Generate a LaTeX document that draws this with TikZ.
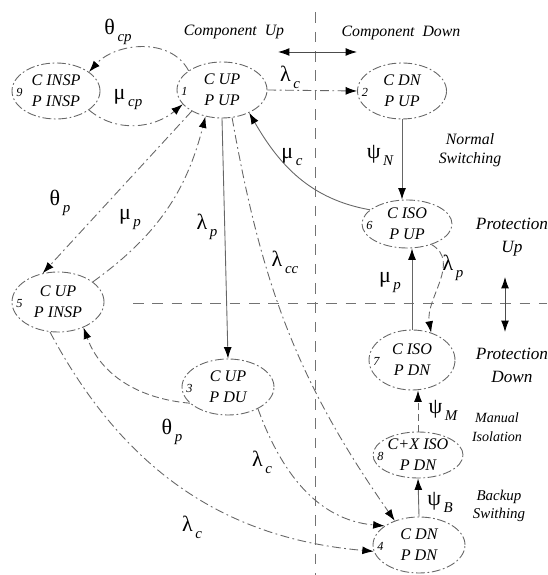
\documentclass[tikz,border=0pt]{standalone}
\usepackage{fontspec}
\setmainfont{Liberation Serif}
\usepackage{tikz}
\usetikzlibrary{shapes.geometric, arrows.meta}

\newcommand{\ratelab}[2]{#1\kern1.5pt\raisebox{-0.32em}{\fontsize{8.5}{9}\selectfont\itshape #2}}

\tikzset{
	state/.style={shape=ellipse, draw=black!60, line width=0.5pt, dash pattern=on 5pt off 1.5pt on 1pt off 1.5pt, inner sep=0pt, align=center, font=\fontsize{9.2}{12}\selectfont\itshape},
	statenum/.style={label={[font=\fontsize{7}{7}\selectfont\itshape, inner sep=0pt, anchor=west, xshift=2.5pt, yshift=-1pt]west:#1}},
	rate/.style={font=\fontsize{12.5}{14}\selectfont, inner sep=1pt},
	note/.style={font=\fontsize{9}{11}\selectfont\itshape, align=center, inner sep=1pt},
	trans/.style={draw=black!60, line width=0.5pt, -{Latex[length=6.5pt, width=4.5pt, color=black]}},
	dd/.style={dash pattern=on 5pt off 2pt on 1pt off 2pt},
	ds/.style={dash pattern=on 4pt off 2pt},
	twoway/.style={draw=black!70, line width=0.5pt, {Latex[length=6.5pt, width=4.5pt, color=black]}-{Latex[length=6.5pt, width=4.5pt, color=black]}},
	divider/.style={draw=black!55, line width=0.5pt, dash pattern=on 6pt off 5pt}
}

\begin{document}
\begin{tikzpicture}
	% States, rates and borders:
	\useasboundingbox (0, 0) rectangle (10.94, 11.5);
	\coordinate (vtop) at (6.30, 11.25);
	\coordinate (vbot) at (6.30, 0);
	\coordinate (hleft) at (2.66, 5.44);
	\coordinate (hright) at (10.94, 5.44);
	\draw[divider] (vtop) -- (vbot);
	\draw[divider] (hleft) -- (hright);
	\coordinate (cl) at (5.56, 10.46);
	\coordinate (cr) at (7.14, 10.46);
	\draw[twoway] (cl) -- (cr);
	\coordinate (pu) at (10.10, 5.96);
	\coordinate (pd) at (10.10, 4.86);
	\draw[twoway] (pu) -- (pd);
	\node[note] (compup) at (4.68, 10.86){Component\ \ Up};
	\node[note] (compdn) at (8.02, 10.84){Component\ \ Down};
	\node[note] (normsw) at (9.40, 8.50){Normal\\Switching};
	\node[note, font=\fontsize{9.8}{13}\selectfont\itshape] (protup) at (10.24, 6.76){Protection\\Up};
	\node[note, font=\fontsize{9.8}{13}\selectfont\itshape] (protdn) at (10.24, 4.20){Protection\\Down};
	\node[note, font=\fontsize{8}{10.5}\selectfont\itshape] (maniso) at (9.94, 2.96){Manual\\Isolation};
	\node[note, font=\fontsize{8.5}{10.5}\selectfont\itshape] (backsw) at (9.98, 1.38){Backup\\Swithing};
	\node[state, statenum=9, minimum width=1.76cm, minimum height=1.12cm] (n9) at (1.12, 9.68){C INSP\\P INSP};
	\node[state, statenum=1, minimum width=1.80cm, minimum height=1.12cm] (n1) at (4.44, 9.70){C UP\\P UP};
	\node[state, statenum=2, minimum width=1.78cm, minimum height=1.12cm] (n2) at (8.04, 9.68){C DN\\P UP};
	\node[state, statenum=6, minimum width=1.80cm, minimum height=0.96cm] (n6) at (8.14, 7.02){C ISO\\P UP};
	\node[state, statenum=5, minimum width=1.84cm, minimum height=1.20cm] (n5) at (1.16, 5.46){C UP\\P INSP};
	\node[state, statenum=3, minimum width=1.84cm, minimum height=1.12cm] (n3) at (4.56, 3.76){C UP\\P DU};
	\node[state, statenum=7, minimum width=1.72cm, minimum height=1.20cm] (n7) at (8.24, 4.30){C ISO\\P DN};
	\node[state, statenum=8, minimum width=1.80cm, minimum height=0.92cm] (n8) at (8.36, 2.40){C+X ISO\\P DN};
	\node[state, statenum=4, minimum width=1.84cm, minimum height=1.12cm] (n4) at (8.38, 0.60){C DN\\P DN};
	\draw[trans, dd] (n1.east) -- (n2.west);
	\draw[trans, dd] (n1.150) to[out=118, in=48] (n9.30);
	\draw[trans, dd] (n9.-30) to[out=-40, in=-140] (n1.200);
	\draw[trans, dd] (n1.215) -- (n5.118);
	\draw[trans, dd] (n5.30) to[bend right=20] (n1.238);
	\draw[trans] (n1.south) -- (n3.north);
	\draw[trans, dd] (n1.-70) to[out=-80, in=125] (n4.135);
	\draw[trans] (n6.159) to[out=170, in=-60] (n1.-40);
	\draw[trans] (n2.south) -- (n2.south |- n6.north);
	\draw[trans] (n7.north) -- (n7.north |- n6.south);
	\draw[trans, ds] (n6.-40) to[out=-30, in=100] (n7.55);
	\draw[trans, ds] (n8.north) -- (n8.north |- n7.south);
	\draw[trans] (n4.north) -- (n8.south);
	\draw[trans, ds] (n3.203) to[out=175, in=-70] (n5.-45);
	\draw[trans, dd] (n3.-36) to[out=-70, in=175] (n4.151);
	\draw[trans, dd] (n5.-105) to[out=-62, in=175] (n4.188);
	\node[rate] (lthetacp) at (2.36, 10.86){\ratelab{θ}{cp}};
	\node[rate] (lmucp) at (2.56, 9.50){\ratelab{μ}{cp}};
	\node[rate] (llamc1) at (5.80, 9.96){\ratelab{λ}{c}};
	\node[rate] (lthetap1) at (1.20, 7.44){\ratelab{θ}{p}};
	\node[rate] (lmup1) at (2.60, 7.10){\ratelab{μ}{p}};
	\node[rate] (llamp1) at (4.14, 6.96){\ratelab{λ}{p}};
	\node[rate] (llamcc) at (5.70, 6.26){\ratelab{λ}{cc}};
	\node[rate] (lmuc) at (5.84, 8.36){\ratelab{μ}{c}};
	\node[rate] (lpsin) at (7.60, 8.40){\ratelab{ψ}{N}};
	\node[rate] (lmup2) at (7.80, 5.84){\ratelab{μ}{p}};
	\node[rate] (llamp2) at (9.06, 6.14){\ratelab{λ}{p}};
	\node[rate] (lpsim) at (8.86, 3.30){\ratelab{ψ}{M}};
	\node[rate] (lpsib) at (8.80, 1.46){\ratelab{ψ}{B}};
	\node[rate] (lthetap2) at (3.44, 2.86){\ratelab{θ}{p}};
	\node[rate] (llamc2) at (5.24, 2.26){\ratelab{λ}{c}};
	\node[rate] (llamc3) at (3.84, 0.96){\ratelab{λ}{c}};
\end{tikzpicture}
\end{document}
